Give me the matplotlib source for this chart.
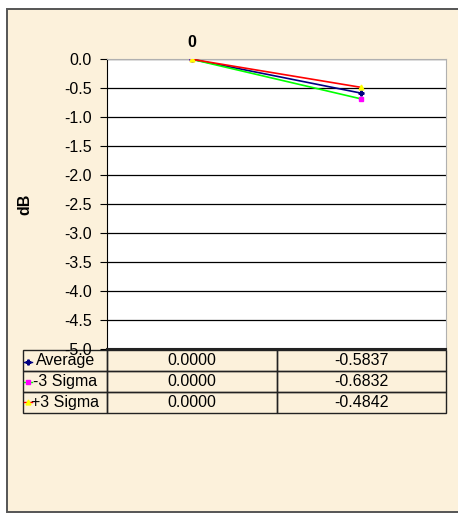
import matplotlib.pyplot as plt
from matplotlib.lines import Line2D
from matplotlib.patches import Rectangle

plt.rcParams['font.family'] = ['Liberation Sans', 'DejaVu Sans']

# данные
categories = ['0', '']
series_names = ['Average', '-3 Sigma', '+3 Sigma']
average = [0.0000, -0.5837]
minus_3sigma = [0.0000, -0.6832]
plus_3sigma = [0.0000, -0.4842]
y_ticks = [0.0, -0.5, -1.0, -1.5, -2.0, -2.5, -3.0, -3.5, -4.0, -4.5, -5.0]

bg = '#FCF1DB'
fs = 11.5
fig = plt.figure(figsize=(4.58, 5.15), dpi=100, facecolor='white')

# рамка вокруг диаграммы
fig.add_artist(Rectangle((7 / 458, 3 / 515), 1.0, 1 - 12 / 515,
                         transform=fig.transFigure, facecolor=bg,
                         edgecolor='#555555', linewidth=1.4, zorder=-5))

ax = fig.add_axes([107.3 / 458, 1 - 349 / 515, 338.4 / 458, 289.7 / 515])
ax.set_facecolor('white')

x = list(range(len(categories)))
styles = [
    (average, '#000080', '#000080', 'P', 3.5),
    (minus_3sigma, '#00FF00', '#FF00FF', 's', 3.5),
    (plus_3sigma, '#FF0000', '#FFFF00', '^', 3.5),
]
for vals, lc, mc, mk, ms in styles:
    ax.plot(x, vals, color=lc, linewidth=1.2, marker=mk, markersize=ms,
            markerfacecolor=mc, markeredgecolor=mc, zorder=3)

ax.set_xlim(-0.5, len(categories) - 0.5)
ax.set_ylim(-5.0, 0.0)
ax.set_yticks(y_ticks)
ax.set_yticklabels(['%.1f' % v for v in y_ticks], fontsize=fs)
ax.yaxis.grid(True, color='black', linewidth=0.9)
ax.set_axisbelow(True)
ax.tick_params(axis='y', direction='out', length=5, width=0.8, pad=6)

ax.xaxis.tick_top()
ax.set_xticks(x)
ax.set_xticklabels(categories, fontsize=fs, fontweight='bold')
ax.tick_params(axis='x', length=0, pad=7)

ax.spines['left'].set_color('black')
ax.spines['bottom'].set_color('#222222')
ax.spines['bottom'].set_linewidth(1.5)
ax.spines['top'].set_color('#B0B0B0')
ax.spines['right'].set_color('#B0B0B0')

ax.set_ylabel('dB', fontsize=fs, fontweight='bold')
ax.yaxis.set_label_coords(-0.222, 0.5)

# таблица данных
cell_text = []
for name, vals in zip(series_names, [average, minus_3sigma, plus_3sigma]):
    cell_text.append([name] + ['%.4f' % v for v in vals])

tbl = ax.table(cellText=cell_text, colWidths=[84, 169, 169], cellLoc='center',
               bbox=[-0.249, -0.221, 1.25, 0.2175])
tbl.auto_set_font_size(False)
tbl.set_fontsize(fs)
for (r, c), cell in tbl.get_celld().items():
    cell.set_facecolor('none')
    cell.set_edgecolor('#222222')
    cell.set_linewidth(1.0)
    if c == 0:
        cell._loc = 'left'
        cell.PAD = 0.11

# значки легенды в таблице
row_y = [362, 382, 402]
for yy, (vals, lc, mc, mk, ms) in zip(row_y, styles):
    fy = 1 - yy / 515
    fig.add_artist(Line2D([24 / 458, 32 / 458], [fy, fy], transform=fig.transFigure,
                          color=lc, linewidth=1.0))
    fig.add_artist(Line2D([28 / 458], [fy], transform=fig.transFigure, marker=mk,
                          markersize=3.5, color=mc, markeredgecolor=mc))

fig.savefig('out.png', dpi=100, facecolor='white')
